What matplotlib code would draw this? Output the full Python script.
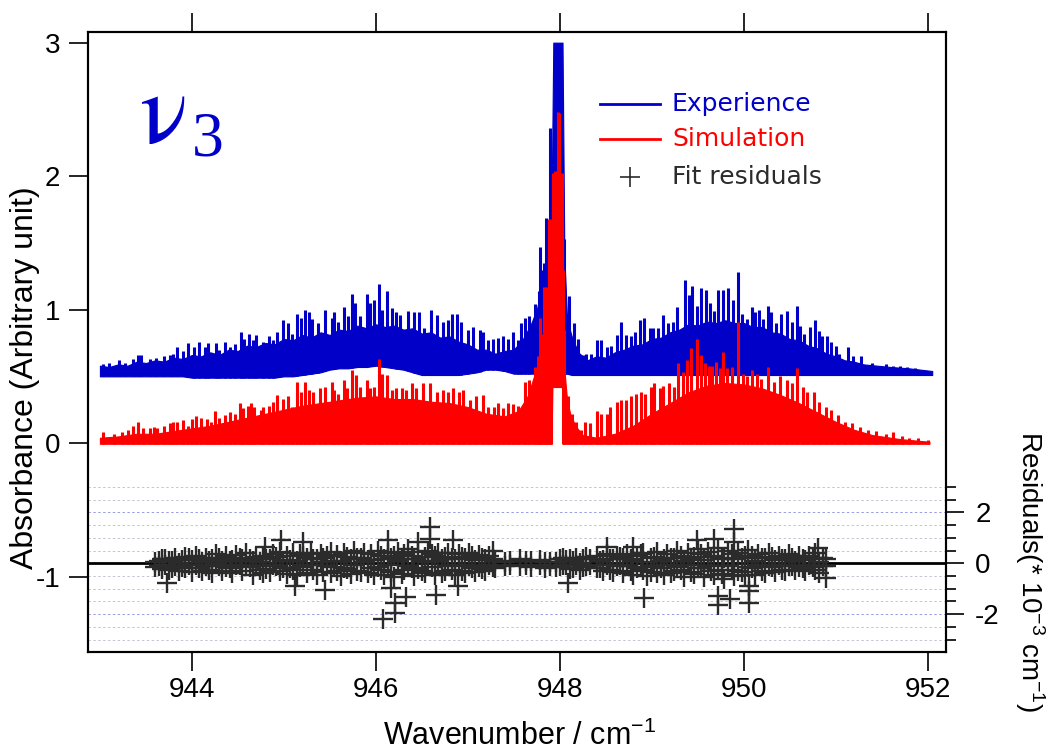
"""nu3 band: experimental vs simulated absorbance with fit residuals."""
import matplotlib
matplotlib.use("Agg")
import matplotlib.pyplot as plt  # noqa: E402
import numpy as np  # noqa: E402
from matplotlib.lines import Line2D  # noqa: E402

BLUE, RED, INK = "#0000c8", "#ff0000", "#2b2b2b"
plt.rcParams.update({"font.family": "Liberation Sans", "font.size": 19,
                     "mathtext.default": "regular", "axes.unicode_minus": False,
                     "axes.linewidth": 1.5})

# ---- experimental spectrum: dense envelope (x, low, high) and resolved lines (x, peak)
exp_env = [
    (943.00, 0.50, 0.58), (943.10, 0.50, 0.57), (943.20, 0.50, 0.59), (943.30, 0.50, 0.58),
    (943.40, 0.50, 0.61), (943.50, 0.50, 0.60), (943.60, 0.50, 0.62), (943.70, 0.50, 0.61),
    (943.80, 0.50, 0.64), (943.90, 0.50, 0.63), (944.00, 0.49, 0.66), (944.10, 0.49, 0.65),
    (944.20, 0.49, 0.68), (944.30, 0.49, 0.66), (944.40, 0.49, 0.70), (944.50, 0.49, 0.69),
    (944.60, 0.49, 0.73), (944.70, 0.49, 0.72), (944.80, 0.49, 0.75), (944.90, 0.49, 0.74),
    (945.00, 0.50, 0.78), (945.10, 0.50, 0.77), (945.20, 0.51, 0.81), (945.30, 0.52, 0.79),
    (945.40, 0.53, 0.83), (945.50, 0.55, 0.81), (945.60, 0.56, 0.85), (945.70, 0.56, 0.84),
    (945.80, 0.57, 0.88), (945.90, 0.57, 0.86), (946.00, 0.58, 0.89), (946.10, 0.57, 0.87),
    (946.20, 0.56, 0.88), (946.30, 0.55, 0.85), (946.40, 0.53, 0.86), (946.50, 0.51, 0.82),
    (946.60, 0.51, 0.83), (946.70, 0.51, 0.79), (946.80, 0.51, 0.80), (946.90, 0.51, 0.76),
    (947.00, 0.52, 0.74), (947.10, 0.53, 0.70), (947.20, 0.55, 0.70), (947.30, 0.55, 0.67),
    (947.40, 0.54, 0.69), (947.50, 0.52, 0.70), (947.60, 0.52, 0.78), (947.68, 0.52, 0.88),
    (947.75, 0.52, 1.00), (947.82, 0.52, 1.20), (947.87, 0.52, 1.35), (947.91, 0.52, 1.70),
    (947.93, 0.52, 3.00), (948.03, 0.52, 3.00), (948.05, 0.52, 1.40), (948.08, 0.52, 0.92),
    (948.13, 0.51, 0.80), (948.20, 0.51, 0.68), (948.30, 0.51, 0.62), (948.40, 0.51, 0.65),
    (948.50, 0.51, 0.64), (948.60, 0.51, 0.68), (948.70, 0.51, 0.70), (948.80, 0.51, 0.73),
    (948.90, 0.51, 0.74), (949.00, 0.51, 0.78), (949.10, 0.51, 0.79), (949.20, 0.51, 0.83),
    (949.30, 0.51, 0.85), (949.40, 0.51, 0.89), (949.50, 0.51, 0.88), (949.60, 0.51, 0.91),
    (949.70, 0.51, 0.90), (949.80, 0.51, 0.92), (949.90, 0.51, 0.90), (950.00, 0.51, 0.90),
    (950.10, 0.51, 0.87), (950.20, 0.51, 0.87), (950.30, 0.51, 0.83), (950.40, 0.51, 0.82),
    (950.50, 0.51, 0.78), (950.60, 0.51, 0.77), (950.70, 0.51, 0.73), (950.80, 0.51, 0.71),
    (950.90, 0.51, 0.67), (951.00, 0.51, 0.65), (951.10, 0.51, 0.62), (951.20, 0.51, 0.61),
    (951.30, 0.51, 0.59), (951.45, 0.51, 0.58), (951.60, 0.51, 0.57), (951.80, 0.51, 0.56),
    (952.05, 0.51, 0.54),
]
exp_lines = [
    (943.03, 0.59), (943.10, 0.60), (943.15, 0.58), (943.21, 0.62), (943.27, 0.60),
    (943.36, 0.63), (943.41, 0.66), (943.45, 0.66), (943.54, 0.63), (943.61, 0.64),
    (943.70, 0.65), (943.76, 0.66), (943.79, 0.67), (943.84, 0.72), (943.90, 0.69),
    (943.96, 0.75), (944.02, 0.72), (944.08, 0.76), (944.14, 0.72), (944.17, 0.75),
    (944.26, 0.75), (944.30, 0.70), (944.36, 0.76), (944.41, 0.72), (944.47, 0.74),
    (944.53, 0.83), (944.57, 0.78), (944.62, 0.82), (944.66, 0.77), (944.70, 0.81),
    (944.77, 0.76), (944.84, 0.80), (944.88, 0.77), (944.93, 0.83), (944.99, 0.92),
    (945.04, 0.90), (945.09, 0.82), (945.14, 0.97), (945.19, 0.94), (945.23, 1.00),
    (945.27, 0.98), (945.31, 0.93), (945.37, 0.90), (945.45, 1.00), (945.52, 0.94),
    (945.54, 0.98), (945.59, 0.91), (945.65, 1.02), (945.70, 0.95), (945.74, 1.12),
    (945.77, 1.05), (945.83, 0.95), (945.90, 1.12), (945.94, 1.05), (945.98, 1.07),
    (946.03, 1.19), (946.07, 1.00), (946.12, 1.14), (946.18, 1.01), (946.22, 0.98),
    (946.26, 0.96), (946.35, 0.99), (946.41, 0.98), (946.47, 0.98), (946.52, 0.86),
    (946.60, 1.00), (946.66, 0.96), (946.73, 0.91), (946.79, 0.92), (946.83, 0.97),
    (946.88, 0.97), (946.93, 0.91), (947.00, 0.85), (947.06, 0.87), (947.13, 0.85),
    (947.17, 0.83), (947.22, 0.77), (947.27, 0.78), (947.33, 0.79), (947.38, 0.80),
    (947.44, 0.78), (947.49, 0.83), (947.55, 0.77), (947.58, 0.90), (947.62, 0.94),
    (947.67, 0.95), (947.73, 1.04), (947.77, 1.14), (947.79, 1.47), (947.81, 1.30),
    (947.83, 1.35), (947.85, 1.69), (947.87, 1.35), (947.89, 2.36), (947.91, 1.77),
    (947.95, 3.00), (948.00, 3.00), (948.05, 1.53), (948.07, 0.97), (948.10, 1.10),
    (948.15, 0.90), (948.20, 0.78), (948.25, 0.66), (948.29, 0.67), (948.34, 0.67),
    (948.40, 0.77), (948.45, 0.77), (948.51, 0.72), (948.56, 0.73), (948.62, 0.81),
    (948.67, 0.91), (948.72, 0.81), (948.78, 0.80), (948.82, 0.83), (948.87, 0.92),
    (948.92, 0.94), (948.98, 0.86), (949.01, 0.86), (949.07, 0.86), (949.12, 0.96),
    (949.18, 0.90), (949.23, 0.91), (949.28, 1.02), (949.36, 1.22), (949.40, 1.11),
    (949.44, 1.18), (949.49, 1.03), (949.54, 1.16), (949.59, 1.15), (949.63, 1.05),
    (949.68, 0.99), (949.72, 1.15), (949.78, 1.15), (949.83, 1.16), (949.88, 1.07),
    (949.94, 1.28), (949.98, 0.97), (950.04, 0.93), (950.09, 1.02), (950.12, 0.98),
    (950.17, 1.00), (950.21, 0.93), (950.26, 1.03), (950.30, 0.98), (950.35, 0.90),
    (950.41, 0.97), (950.47, 0.99), (950.52, 0.91), (950.58, 1.03), (950.61, 0.88),
    (950.66, 0.82), (950.72, 0.87), (950.78, 0.92), (950.82, 0.84), (950.85, 0.80),
    (950.91, 0.80), (950.95, 0.76), (951.00, 0.73), (951.04, 0.67), (951.13, 0.72),
    (951.19, 0.65), (951.28, 0.65), (951.33, 0.58), (951.40, 0.60), (951.48, 0.58),
    (951.55, 0.59), (951.62, 0.58), (951.70, 0.58), (951.78, 0.57), (951.86, 0.56),
    (951.95, 0.55),
]

# ---- simulated spectrum
sim_env = [
    (943.00, -0.005, 0.04), (943.20, -0.005, 0.05), (943.40, -0.005, 0.07),
    (943.60, -0.005, 0.07), (943.80, -0.005, 0.09), (944.00, -0.005, 0.11),
    (944.20, -0.005, 0.13), (944.40, -0.005, 0.16), (944.60, -0.005, 0.19),
    (944.80, -0.005, 0.22), (945.00, -0.005, 0.25), (945.20, -0.005, 0.28),
    (945.40, -0.005, 0.30), (945.60, -0.005, 0.32), (945.80, -0.005, 0.34),
    (946.00, -0.005, 0.35), (946.20, -0.005, 0.33), (946.40, -0.005, 0.33),
    (946.60, -0.005, 0.31), (946.80, -0.005, 0.30), (947.00, -0.005, 0.27),
    (947.20, -0.005, 0.22), (947.40, -0.005, 0.20), (947.55, -0.005, 0.24),
    (947.65, -0.005, 0.35), (947.72, -0.005, 0.50), (947.78, -0.005, 0.72),
    (947.84, -0.005, 0.98), (947.88, -0.005, 1.25), (947.91, -0.005, 1.55),
    (947.92, 0.42, 1.75), (947.95, 0.42, 1.95), (947.98, 0.42, 2.25),
    (948.01, 0.42, 1.95), (948.025, 0.42, 1.45), (948.035, -0.005, 1.05),
    (948.05, -0.005, 0.55), (948.08, -0.005, 0.32), (948.12, -0.005, 0.20),
    (948.18, -0.005, 0.12), (948.25, -0.005, 0.06), (948.40, -0.005, 0.04),
    (948.60, -0.005, 0.07), (948.80, -0.005, 0.13), (949.00, -0.005, 0.22),
    (949.20, -0.005, 0.30), (949.40, -0.005, 0.38), (949.60, -0.005, 0.43),
    (949.80, -0.005, 0.45), (950.00, -0.005, 0.44), (950.20, -0.005, 0.41),
    (950.40, -0.005, 0.36), (950.60, -0.005, 0.30), (950.80, -0.005, 0.23),
    (951.00, -0.005, 0.16), (951.20, -0.005, 0.10), (951.40, -0.005, 0.06),
    (951.70, -0.005, 0.03), (952.02, -0.005, 0.01),
]
sim_lines = [
    (943.03, 0.08), (943.15, 0.07), (943.24, 0.08), (943.30, 0.10), (943.36, 0.13),
    (943.41, 0.16), (943.47, 0.11), (943.54, 0.11), (943.59, 0.12), (943.62, 0.11),
    (943.70, 0.13), (943.76, 0.15), (943.79, 0.16), (943.84, 0.16), (943.90, 0.17),
    (943.96, 0.13), (944.00, 0.18), (944.05, 0.20), (944.10, 0.19), (944.16, 0.18),
    (944.21, 0.16), (944.25, 0.24), (944.30, 0.19), (944.36, 0.21), (944.41, 0.23),
    (944.47, 0.22), (944.52, 0.30), (944.56, 0.26), (944.61, 0.28), (944.64, 0.30),
    (944.68, 0.27), (944.75, 0.25), (944.77, 0.27), (944.84, 0.28), (944.88, 0.31),
    (944.93, 0.36), (944.99, 0.33), (945.04, 0.35), (945.09, 0.27), (945.14, 0.46),
    (945.19, 0.38), (945.23, 0.46), (945.27, 0.40), (945.32, 0.38), (945.39, 0.41),
    (945.45, 0.42), (945.52, 0.46), (945.54, 0.40), (945.59, 0.37), (945.65, 0.47),
    (945.69, 0.41), (945.74, 0.55), (945.78, 0.51), (945.83, 0.42), (945.90, 0.47),
    (945.94, 0.41), (945.98, 0.42), (946.03, 0.63), (946.07, 0.52), (946.12, 0.51),
    (946.18, 0.40), (946.22, 0.41), (946.28, 0.41), (946.33, 0.40), (946.39, 0.45),
    (946.44, 0.41), (946.51, 0.45), (946.59, 0.45), (946.66, 0.38), (946.73, 0.40),
    (946.79, 0.38), (946.84, 0.41), (946.90, 0.38), (946.95, 0.40), (947.02, 0.32),
    (947.09, 0.35), (947.17, 0.36), (947.22, 0.27), (947.28, 0.27), (947.33, 0.30),
    (947.38, 0.26), (947.44, 0.30), (947.49, 0.29), (947.55, 0.28), (947.62, 0.46),
    (947.67, 0.47), (947.73, 0.57), (947.76, 0.65), (947.78, 0.94), (947.80, 0.82),
    (947.83, 1.17), (947.85, 1.17), (947.88, 1.68), (947.90, 1.68), (947.93, 2.02),
    (947.95, 2.04), (947.98, 2.48), (947.99, 2.47), (948.02, 2.02), (948.04, 1.30),
    (948.05, 0.85), (948.09, 0.35), (948.13, 0.22), (948.18, 0.16), (948.23, 0.10),
    (948.27, 0.16), (948.33, 0.15), (948.40, 0.24), (948.45, 0.22), (948.51, 0.22),
    (948.55, 0.27), (948.62, 0.31), (948.67, 0.32), (948.72, 0.32), (948.78, 0.35),
    (948.83, 0.37), (948.88, 0.38), (948.93, 0.37), (948.99, 0.42), (949.03, 0.45),
    (949.09, 0.41), (949.12, 0.43), (949.19, 0.45), (949.24, 0.42), (949.29, 0.60),
    (949.34, 0.53), (949.38, 0.62), (949.43, 0.71), (949.49, 0.78), (949.54, 0.66),
    (949.58, 0.60), (949.62, 0.58), (949.66, 0.58), (949.70, 0.61), (949.74, 0.56),
    (949.78, 0.68), (949.82, 0.56), (949.87, 0.57), (949.94, 0.91), (949.99, 0.52),
    (950.04, 0.50), (950.09, 0.55), (950.14, 0.52), (950.19, 0.48), (950.26, 0.57),
    (950.33, 0.46), (950.40, 0.50), (950.47, 0.47), (950.52, 0.45), (950.58, 0.56),
    (950.64, 0.42), (950.69, 0.38), (950.77, 0.38), (950.82, 0.31), (950.90, 0.27),
    (950.95, 0.25), (951.03, 0.21), (951.10, 0.16), (951.18, 0.15), (951.26, 0.12),
    (951.35, 0.10), (951.44, 0.09), (951.55, 0.07), (951.62, 0.08), (951.72, 0.05),
    (951.80, 0.04), (951.90, 0.04), (952.00, 0.02),
]

# ---- fit residuals (units of 1e-3 cm-1): (x, residual a, residual b)
res_p = [
    (943.60, 0.05, -0.15), (943.64, -0.12, 0.10), (943.67, 0.18, -0.22), (943.71, -0.05, 0.15),
    (943.75, 0.10, -0.28), (943.78, -0.20, 0.08), (943.82, 0.22, -0.10), (943.86, 0.02, -0.30),
    (943.89, -0.15, 0.12), (943.93, 0.25, -0.18), (943.97, -0.08, 0.20), (944.00, 0.12, -0.35),
    (944.04, 0.30, -0.05), (944.08, -0.18, 0.15), (944.11, 0.05, -0.30), (944.15, 0.20, -0.12),
    (944.19, -0.25, 0.08), (944.22, 0.15, -0.38), (944.26, 0.35, -0.02), (944.30, -0.10, 0.22),
    (944.33, 0.08, -0.30), (944.37, 0.28, -0.15), (944.41, -0.20, 0.10), (944.44, 0.12, -0.40),
    (944.48, 0.32, -0.08), (944.52, -0.05, 0.20), (944.55, 0.18, -0.32), (944.59, 0.40, -0.12),
    (944.63, -0.15, 0.15), (944.66, 0.10, -0.45), (944.70, 0.25, -0.10), (944.74, 0.05, -0.28),
    (944.77, 0.30, -0.40), (944.81, -0.22, 0.18), (944.85, 0.15, -0.35), (944.88, 0.38, -0.05),
    (944.92, -0.10, 0.25), (944.96, 0.45, -0.30), (944.99, 0.08, -0.18), (945.03, 0.30, -0.42),
    (945.07, -0.20, 0.12), (945.10, 0.42, -0.25), (945.14, 0.10, -0.48), (945.18, 0.35, -0.15),
    (945.21, -0.08, 0.28), (945.25, 0.22, -0.38), (945.29, 0.40, -0.05), (945.32, -0.28, 0.15),
    (945.36, 0.18, -0.45), (945.40, 0.05, 0.35), (945.43, -0.35, 0.20), (945.47, 0.28, -0.12),
    (945.51, 0.45, -0.40), (945.54, -0.15, 0.10), (945.58, 0.32, -0.30), (945.62, 0.08, -0.50),
    (945.65, 0.40, -0.18), (945.69, -0.22, 0.25), (945.73, 0.15, -0.42), (945.76, 0.48, -0.08),
    (945.80, -0.30, 0.20), (945.84, 0.22, -0.35), (945.87, 0.05, 0.42), (945.91, -0.40, 0.12),
    (945.95, 0.35, -0.20), (945.98, 0.12, -0.48), (946.02, 0.50, -0.15), (946.06, -0.25, 0.30),
    (946.09, 0.18, -0.45), (946.13, 0.42, -0.05), (946.17, -0.35, 0.22), (946.20, 0.28, -0.55),
    (946.24, 0.08, 0.45), (946.28, -0.42, 0.15), (946.31, 0.35, -0.28), (946.35, 0.55, -0.10),
    (946.39, -0.20, 0.30), (946.42, 0.15, -0.50), (946.46, 0.45, -0.22), (946.50, -0.32, 0.10),
    (946.53, 0.25, -0.40), (946.57, 0.50, 0.05), (946.61, -0.15, 0.35), (946.64, 0.30, -0.48),
    (946.68, 0.10, 0.40), (946.72, -0.38, 0.18), (946.75, 0.25, -0.30), (946.79, 0.42, -0.12),
    (946.83, -0.25, 0.20), (946.86, 0.15, -0.45), (946.90, 0.35, -0.05), (946.94, -0.30, 0.25),
    (946.97, 0.20, -0.38), (947.01, 0.40, -0.10), (947.05, -0.18, 0.28), (947.08, 0.12, -0.35),
    (947.12, 0.32, -0.15), (947.16, -0.22, 0.20), (947.19, 0.18, -0.30), (947.23, 0.30, -0.08),
    (947.27, -0.15, 0.15), (947.30, 0.10, -0.20),
]
res_q = [
    (947.40, 0.05, -0.10), (947.46, 0.10, -0.05), (947.57, 0.15, -0.12), (947.63, -0.05, 0.08),
    (947.69, 0.08, -0.15), (947.79, 0.12, -0.05), (947.84, -0.18, 0.06), (947.89, 0.05, -0.10),
]
res_r = [
    (947.96, 0.05, -0.15), (948.00, -0.12, 0.18), (948.03, 0.20, -0.08), (948.07, -0.05, 0.12),
    (948.11, 0.15, -0.22), (948.14, -0.18, 0.08), (948.18, 0.22, -0.05), (948.22, 0.02, -0.25),
    (948.25, -0.15, 0.18), (948.29, 0.25, -0.10), (948.33, -0.05, 0.15), (948.40, 0.30, -0.20),
    (948.44, -0.20, 0.10), (948.47, 0.12, -0.30), (948.51, 0.35, -0.05), (948.55, -0.25, 0.18),
    (948.58, 0.15, -0.35), (948.62, 0.30, -0.12), (948.66, -0.08, 0.25), (948.69, 0.20, -0.40),
    (948.73, 0.38, -0.10), (948.77, -0.30, 0.15), (948.80, 0.10, -0.45), (948.84, 0.28, -0.18),
    (948.88, -0.15, 0.35), (948.91, 0.40, -0.25), (948.95, 0.05, -0.50), (948.99, -0.35, 0.20),
    (949.02, 0.25, -0.12), (949.06, 0.45, -0.38), (949.10, -0.20, 0.10), (949.13, 0.15, -0.48),
    (949.17, 0.35, -0.05), (949.21, -0.40, 0.22), (949.24, 0.20, -0.30), (949.28, 0.50, -0.15),
    (949.32, -0.25, 0.30), (949.35, 0.10, -0.52), (949.39, 0.42, -0.08), (949.43, -0.35, 0.18),
    (949.46, 0.25, -0.42), (949.50, 0.55, -0.20), (949.54, -0.18, 0.35), (949.57, 0.12, -0.55),
    (949.61, 0.45, -0.10), (949.65, -0.30, 0.25), (949.68, 0.30, -0.45), (949.72, 0.58, -0.28),
    (949.76, -0.42, 0.15), (949.79, 0.20, -0.60), (949.83, 0.48, -0.12), (949.87, -0.25, 0.35),
    (949.90, 0.15, -0.50), (949.94, 0.40, -0.30), (949.98, -0.35, 0.22), (950.01, 0.28, -0.48),
    (950.05, 0.52, -0.15), (950.09, -0.20, 0.30), (950.12, 0.10, -0.45), (950.16, 0.38, -0.08),
    (950.20, -0.30, 0.20), (950.23, 0.22, -0.38), (950.27, 0.42, -0.12), (950.31, -0.15, 0.25),
    (950.34, 0.12, -0.35), (950.38, 0.30, -0.05), (950.42, -0.25, 0.18), (950.45, 0.15, -0.30),
    (950.49, 0.35, -0.10), (950.53, -0.12, 0.22), (950.56, 0.08, -0.28), (950.60, 0.28, -0.15),
    (950.64, -0.20, 0.15), (950.67, 0.12, -0.32), (950.71, 0.30, -0.05), (950.75, -0.15, 0.20),
    (950.78, 0.40, -0.25), (950.82, 0.05, -0.38), (950.86, 0.22, -0.10), (950.90, -0.12, 0.15),
]
res_out = [
    (943.73, -0.78), (944.79, 0.65), (944.97, 0.90), (945.12, -0.91), (945.21, 0.84),
    (945.45, -1.03), (946.08, -2.20), (946.13, 0.90), (946.17, -0.97), (946.21, -1.94),
    (946.21, -1.55), (946.33, -1.32), (946.46, 0.84), (946.59, 1.42), (946.59, 0.97),
    (946.65, -1.23), (946.84, 0.90), (946.89, -0.91), (947.27, 0.50), (948.09, -0.78),
    (948.51, 0.65), (948.80, 0.65), (948.92, -1.36), (949.49, 0.90), (949.68, 0.97),
    (949.72, -1.29), (949.72, -1.62), (949.85, -1.42), (949.90, 1.36), (949.90, 0.84),
    (950.06, -0.91), (950.06, -1.10), (950.06, -1.55), (950.81, 0.58), (950.90, -0.58),
]

x_ticks = [944, 946, 948, 950, 952]
y_ticks = [-1, 0, 1, 2, 3]
res_ticks = [-2, 0, 2]
res_minor = [-3, -2.5, -2, -1.5, -1, -0.5, 0, 0.5, 1, 1.5, 2, 2.5, 3]
grid_major = [-2, 2]
grid_minor = [-3, -2.5, -1.5, -1, -0.5, 0.5, 1, 1.5, 2.5, 3]


def draw_spectrum(ax, env, lines, color):
    ex, lo, hi = (np.array(v) for v in zip(*env))
    lx, lh = (np.array(v) for v in zip(*lines))
    ax.fill_between(ex, lo, hi, color=color, lw=0.8, edgecolor=color)
    ax.vlines(lx, np.interp(lx, ex, lo), lh, color=color, lw=2.2)


def main():
    fig = plt.figure(figsize=(10.51, 7.56), dpi=100)
    ax = fig.add_axes([0.0837, 0.1376, 0.8164, 0.8201])

    draw_spectrum(ax, exp_env, exp_lines, BLUE)
    draw_spectrum(ax, sim_env, sim_lines, RED)

    ax.set_xlim(942.87, 952.2)
    ax.set_ylim(-1.565, 3.08)
    ax.set_xticks(x_ticks)
    ax.set_yticks(y_ticks)
    ax.tick_params(axis="both", direction="out", length=14, width=1.2, pad=6, labelsize=20)
    ax.tick_params(axis="x", top=True, pad=4)
    ax.tick_params(axis="y", right=False)

    # residual scale on the right
    rx = ax.twinx()
    rx.set_ylim(-3.48, 20.84)
    for g in grid_minor:
        rx.axhline(g, ls=(0, (2.5, 2.5)), lw=0.7, color="#c4c4d4", zorder=1)
    for g in grid_major:
        rx.axhline(g, ls=(0, (2.5, 2.5)), lw=0.7, color="#9a9ae6", zorder=1)
    rx.axhline(0, color="black", lw=2, zorder=2)
    style = dict(ls="none", marker="+", ms=15, mew=1.7, color=INK, zorder=3)
    for rows in (res_p, res_q, res_r):
        x, a, b = zip(*rows)
        rx.plot(x, a, **style)
        rx.plot(x, b, **style)
    ox, oy = zip(*res_out)
    rx.plot(ox, oy, **style)
    rx.set_yticks(res_ticks)
    rx.set_yticks(res_minor, minor=True)
    rx.tick_params(axis="y", which="major", direction="out", length=13, width=1.2, pad=8,
                   labelsize=20)
    rx.tick_params(axis="y", which="minor", direction="out", length=7, width=1.2)
    for s in rx.spines.values():
        s.set_linewidth(1.5)

    fig.text(25 / 1051, 1 - 378 / 756, "Absorbance (Arbitrary unit)", rotation=90,
             ha="center", va="center", fontsize=23)
    fig.text(520 / 1051, 1 - 736 / 756, "Wavenumber / cm$^{-1}$",
             ha="center", va="center", fontsize=22)
    fig.text(1030 / 1051, 1 - 572 / 756, "Residuals(* 10$^{-3}$ cm$^{-1}$)", rotation=270,
             ha="center", va="center", fontsize=20)

    # legend
    for yy, col in ((104, BLUE), (139, RED)):
        fig.add_artist(Line2D([600 / 1051, 660 / 1051], [1 - yy / 756] * 2, color=col, lw=2))
    fig.add_artist(Line2D([630 / 1051], [1 - 177 / 756], marker="+", ms=14, mew=1.2,
                          color=INK, ls="none"))
    for yy, txt, col in ((104, "Experience", BLUE), (139, "Simulation", RED),
                         (177, "Fit residuals", INK)):
        fig.text(672 / 1051, 1 - yy / 756, txt, color=col, family="DejaVu Sans",
                 fontsize=18, va="center")

    fig.text(139 / 1051, 1 - 143 / 756, r"$\mathrm{\nu}$", color=BLUE, math_fontfamily="stix",
             fontsize=72, va="baseline")
    fig.text(192 / 1051, 1 - 155 / 756, "3", color=BLUE, family="Liberation Serif",
             fontsize=46, va="baseline")

    fig.savefig("out.png", dpi=100)


if __name__ == "__main__":
    main()
